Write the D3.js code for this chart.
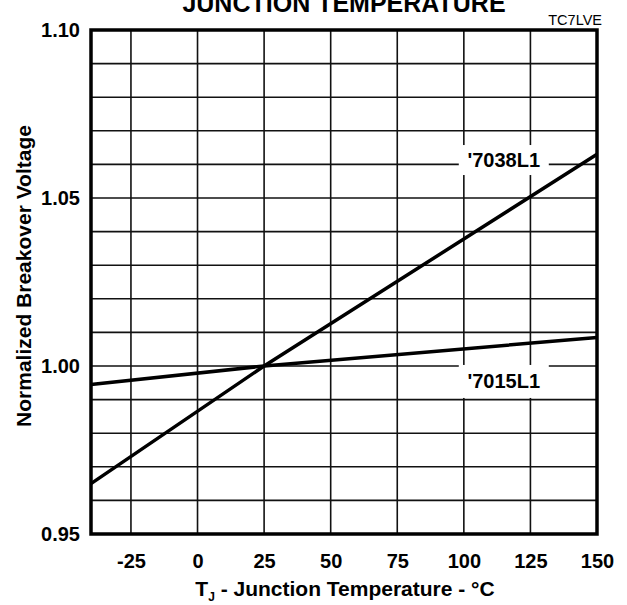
<!DOCTYPE html>
<html><head><meta charset="utf-8">
<script src="https://cdn.jsdelivr.net/npm/d3@7"></script>
<style>body{margin:0;background:#fff}svg{display:block;font-family:"Liberation Sans",Arial,sans-serif}</style>
</head><body>
<svg id="c" width="627" height="605"></svg>
<script>
const xTicks = [-25, 0, 25, 50, 75, 100, 125, 150];
const yTicks = [0.95, 1.00, 1.05, 1.10];
const yGrid = [0.96,0.97,0.98,0.99,1.00,1.01,1.02,1.03,1.04,1.05,1.06,1.07,1.08,1.09];
const xGrid = [-25, 0, 25, 50, 75, 100, 125];
const temp = [-40, 25, 150];
const v7038 = [0.965, 1.000, 1.063];
const v7015 = [0.9945, 1.000, 1.0085];
const seriesNames = ["'7038L1", "'7015L1"];

const svg = d3.select("#c");
const x = d3.scaleLinear().domain([-40,150]).range([91,597]);
const y = d3.scaleLinear().domain([0.95,1.10]).range([534,30]);
const FF = "Liberation Sans, Arial, sans-serif";

// grid
svg.append("g").selectAll("line").data(xGrid).join("line")
  .attr("x1",d=>x(d)).attr("x2",d=>x(d)).attr("y1",y(1.10)).attr("y2",y(0.95))
  .attr("stroke","#111").attr("stroke-width",1.6);
svg.append("g").selectAll("line").data(yGrid).join("line")
  .attr("y1",d=>y(d)).attr("y2",d=>y(d)).attr("x1",x(-40)).attr("x2",x(150))
  .attr("stroke","#111").attr("stroke-width",1.6);

// label boxes
const labels = [{t:seriesNames[0], cx:x(115), cy:y(1.0613), h:30, b:7},{t:seriesNames[1], cx:x(115), cy:y(0.9954), h:33, b:6.5}];
svg.append("g").selectAll("rect").data(labels).join("rect")
  .attr("x",d=>d.cx-45).attr("y",d=>d.cy-d.h/2).attr("width",90).attr("height",d=>d.h).attr("fill","#fff");
svg.append("g").selectAll("text").data(labels).join("text")
  .attr("x",d=>d.cx).attr("y",d=>d.cy+d.b).attr("text-anchor","middle")
  .attr("font-size",20).attr("font-weight","bold").text(d=>d.t);

// lines
const line = d3.line().x(d=>x(d[0])).y(d=>y(d[1]));
[v7038, v7015].forEach(v=>{
  svg.append("path").datum(temp.map((t,i)=>[t,v[i]])).attr("d",line)
    .attr("fill","none").attr("stroke","#000").attr("stroke-width",3.5);
});

// border
svg.append("rect").attr("x",x(-40)).attr("y",y(1.10)).attr("width",x(150)-x(-40)).attr("height",y(0.95)-y(1.10))
  .attr("fill","none").attr("stroke","#000").attr("stroke-width",3.5);

// axes
const xAxis = d3.axisBottom(x).tickValues(xTicks).tickFormat(d=>String(d)).tickSize(0).tickPadding(20);
const gx = svg.append("g").attr("transform",`translate(0,${y(0.95)})`).call(xAxis);
gx.select(".domain").remove();
gx.selectAll("text").attr("font-size",20).attr("font-weight","bold").attr("fill","#000").attr("font-family",FF);
const yAxis = d3.axisLeft(y).tickValues(yTicks).tickFormat(d=>d.toFixed(2)).tickSize(0).tickPadding(11);
const gy = svg.append("g").attr("transform",`translate(${x(-40)},0)`).call(yAxis);
gy.select(".domain").remove();
gy.selectAll("text").attr("font-size",20).attr("font-weight","bold").attr("fill","#000").attr("font-family",FF);

// titles
svg.append("text").attr("x",344).attr("y",12).attr("text-anchor","middle").attr("font-size",25).attr("font-weight","bold").text("JUNCTION TEMPERATURE");
svg.append("text").attr("x",602).attr("y",25).attr("text-anchor","end").attr("font-size",14.5).text("TC7LVE");
const xt = svg.append("text").attr("x",345).attr("y",596).attr("text-anchor","middle").attr("font-size",21).attr("font-weight","bold");
xt.append("tspan").text("T");
xt.append("tspan").attr("font-size",12).attr("dy",5).text("J");
xt.append("tspan").attr("dy",-5).text(" - Junction Temperature - \u00B0C");
svg.append("text").attr("transform","translate(31,276) rotate(-90)").attr("text-anchor","middle").attr("font-size",21).attr("font-weight","bold").text("Normalized Breakover Voltage");
</script>
</body></html>
